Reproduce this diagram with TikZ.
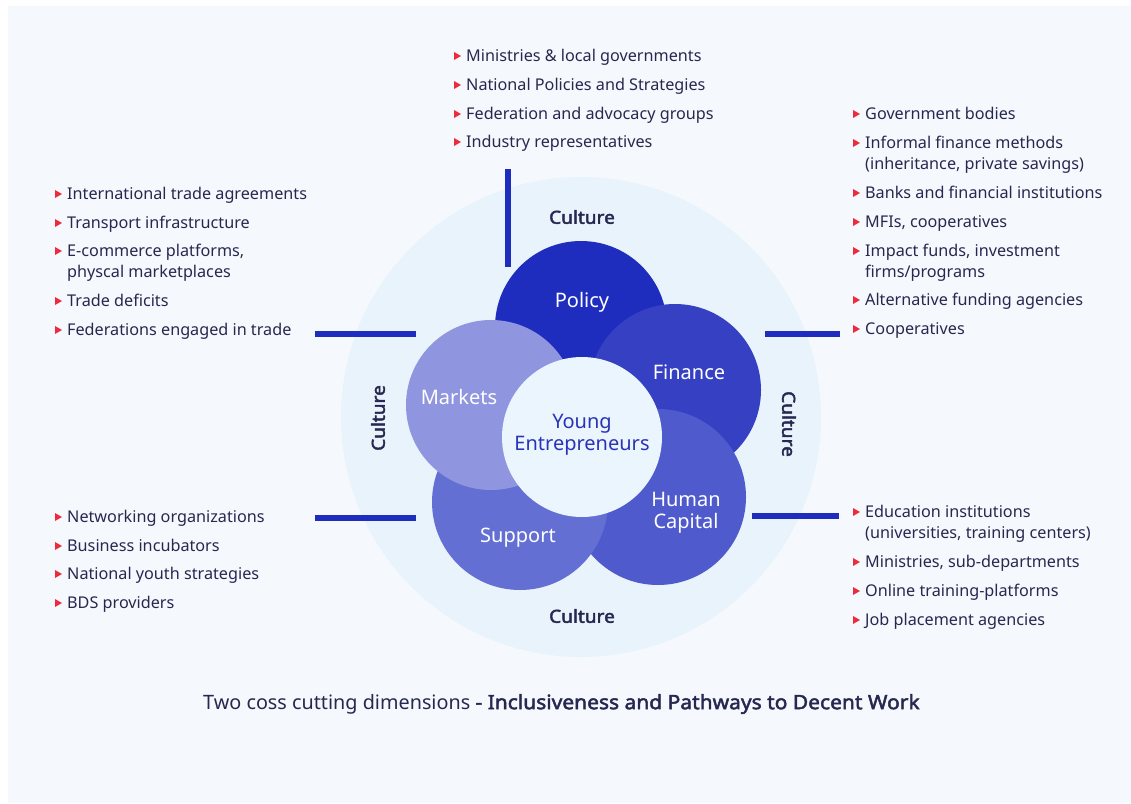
\documentclass[tikz,border=0pt]{standalone}
\usepackage{fontspec}
\setmainfont{Noto Sans}[BoldFont={Noto Sans}, BoldFeatures={FakeBold=2.4, FakeStretch=1.06}]
\definecolor{page}{HTML}{F5F9FD}
\definecolor{ring}{HTML}{E9F3FC}
\definecolor{policyc}{HTML}{1F2DBE}
\definecolor{financec}{HTML}{3540C3}
\definecolor{humanc}{HTML}{4F5BCC}
\definecolor{supportc}{HTML}{646FD4}
\definecolor{marketsc}{HTML}{8F96DF}
\definecolor{core}{HTML}{EBF5FD}
\definecolor{coretext}{HTML}{2A33B8}
\definecolor{ink}{HTML}{27284F}
\definecolor{barc}{HTML}{1F2DBE}
\definecolor{bulletc}{HTML}{EC2B3C}

% one bulleted entry: name, x, y (centre of first line), text
\newcommand\bulletitem[4]{%
  \fill[bulletc] (#2-12,#3-4) -- (#2-5,#3) -- (#2-12,#3+4) -- cycle;
  \node[listitem] (#1) at (#2,#3) {\strut #4};
}

\begin{document}
\begin{tikzpicture}[x=1pt,y=-1pt,
  petal/.style={circle, inner sep=0pt, minimum size=#1},
  petallabel/.style={text=white, align=center, inner sep=0pt,
    font=\fontsize{20}{22}\selectfont},
  culture/.style={text=ink, inner sep=0pt, font=\fontsize{18}{21}\selectfont\bfseries},
  listitem/.style={anchor=north west, inner sep=0pt, align=left, text=ink,
    font=\fontsize{16.2}{21}\selectfont, yshift=9.2pt},
  bar/.style={draw=barc, line width=6pt}]

\useasboundingbox (0,0) rectangle (1131,803);
\fill[white] (0,0) rectangle (1131,803);
\fill[page] (8,6) rectangle (1131,803);

% outer culture ring
\node[petal=480pt, fill=ring] (ring) at (581,417) {};

% the five dimensions, back to front
\node[petal=172pt, fill=policyc]  (policy)  at (581,327) {};
\node[petal=172pt, fill=financec] (finance) at (675,390) {};
\node[petal=176pt, fill=humanc]   (human)   at (658,497) {};
\node[petal=176pt, fill=supportc] (support) at (520,502) {};
\node[petal=170pt, fill=marketsc] (markets) at (491,405) {};
\node[petal=160pt, fill=core]     (core)    at (582,437) {};

\node[petallabel] (policyl)  at (582,302) {Policy};
\node[petallabel] (financel) at (689,372) {Finance};
\node[petallabel] (marketsl) at (459,397) {Markets};
\node[petallabel] (humanl)   at (686,513) {Human\\Capital};
\node[petallabel] (supportl) at (518,538) {Support};
\node[petallabel, text=coretext] (corel) at (582,435) {Young\\Entrepreneurs};

% culture labels around the ring
\node[culture] (cultop) at (582,217) {Culture};
\node[culture] (culbot) at (582,616) {Culture};
\node[culture, rotate=90]  (cullft) at (378,418) {Culture};
\node[culture, rotate=-90] (culrgt) at (789,424) {Culture};

% bars leading out to the lists
\coordinate (bt1) at (508,169); \coordinate (bt2) at (508,267);
\coordinate (bl1) at (315,334); \coordinate (bl2) at (416,334);
\coordinate (bl3) at (315,518); \coordinate (bl4) at (416,518);
\coordinate (br1) at (765,334); \coordinate (br2) at (840,334);
\coordinate (br3) at (752,516); \coordinate (br4) at (839,516);
\draw[bar] (bt1) -- (bt2);
\draw[bar] (bl1) -- (bl2);
\draw[bar] (bl3) -- (bl4);
\draw[bar] (br1) -- (br2);
\draw[bar] (br3) -- (br4);

% policy
\bulletitem{p1}{466}{56}{Ministries \& local governments}
\bulletitem{p2}{466}{85}{National Policies and Strategies}
\bulletitem{p3}{466}{114}{Federation and advocacy groups}
\bulletitem{p4}{466}{142}{Industry representatives}

% markets
\bulletitem{m1}{67}{194}{International trade agreements}
\bulletitem{m2}{67}{223}{Transport infrastructure}
\bulletitem{m3}{67}{251}{E-commerce platforms,\\physcal marketplaces}
\bulletitem{m4}{67}{301}{Trade deficits}
\bulletitem{m5}{67}{330}{Federations engaged in trade}

% finance
\bulletitem{f1}{865}{114}{Government bodies}
\bulletitem{f2}{865}{143}{Informal finance methods\\(inheritance, private savings)}
\bulletitem{f3}{865}{193}{Banks and financial institutions}
\bulletitem{f4}{865}{222}{MFIs, cooperatives}
\bulletitem{f5}{865}{251}{Impact funds, investment\\firms/programs}
\bulletitem{f6}{865}{300}{Alternative funding agencies}
\bulletitem{f7}{865}{329}{Cooperatives}

% support
\bulletitem{s1}{67}{517}{Networking organizations}
\bulletitem{s2}{67}{546}{Business incubators}
\bulletitem{s3}{67}{574}{National youth strategies}
\bulletitem{s4}{67}{603}{BDS providers}

% human capital
\bulletitem{h1}{865}{512}{Education institutions\\(universities, training centers)}
\bulletitem{h2}{865}{562}{Ministries, sub-departments}
\bulletitem{h3}{865}{591}{Online training-platforms}
\bulletitem{h4}{865}{620}{Job placement agencies}

\node[anchor=west, inner sep=0pt, text=ink, font=\fontsize{19.8}{23}\selectfont] (caption) at (203,704)
  {Two coss cutting dimensions \textbf{- Inclusiveness and Pathways to Decent Work}};
\end{tikzpicture}
\end{document}
